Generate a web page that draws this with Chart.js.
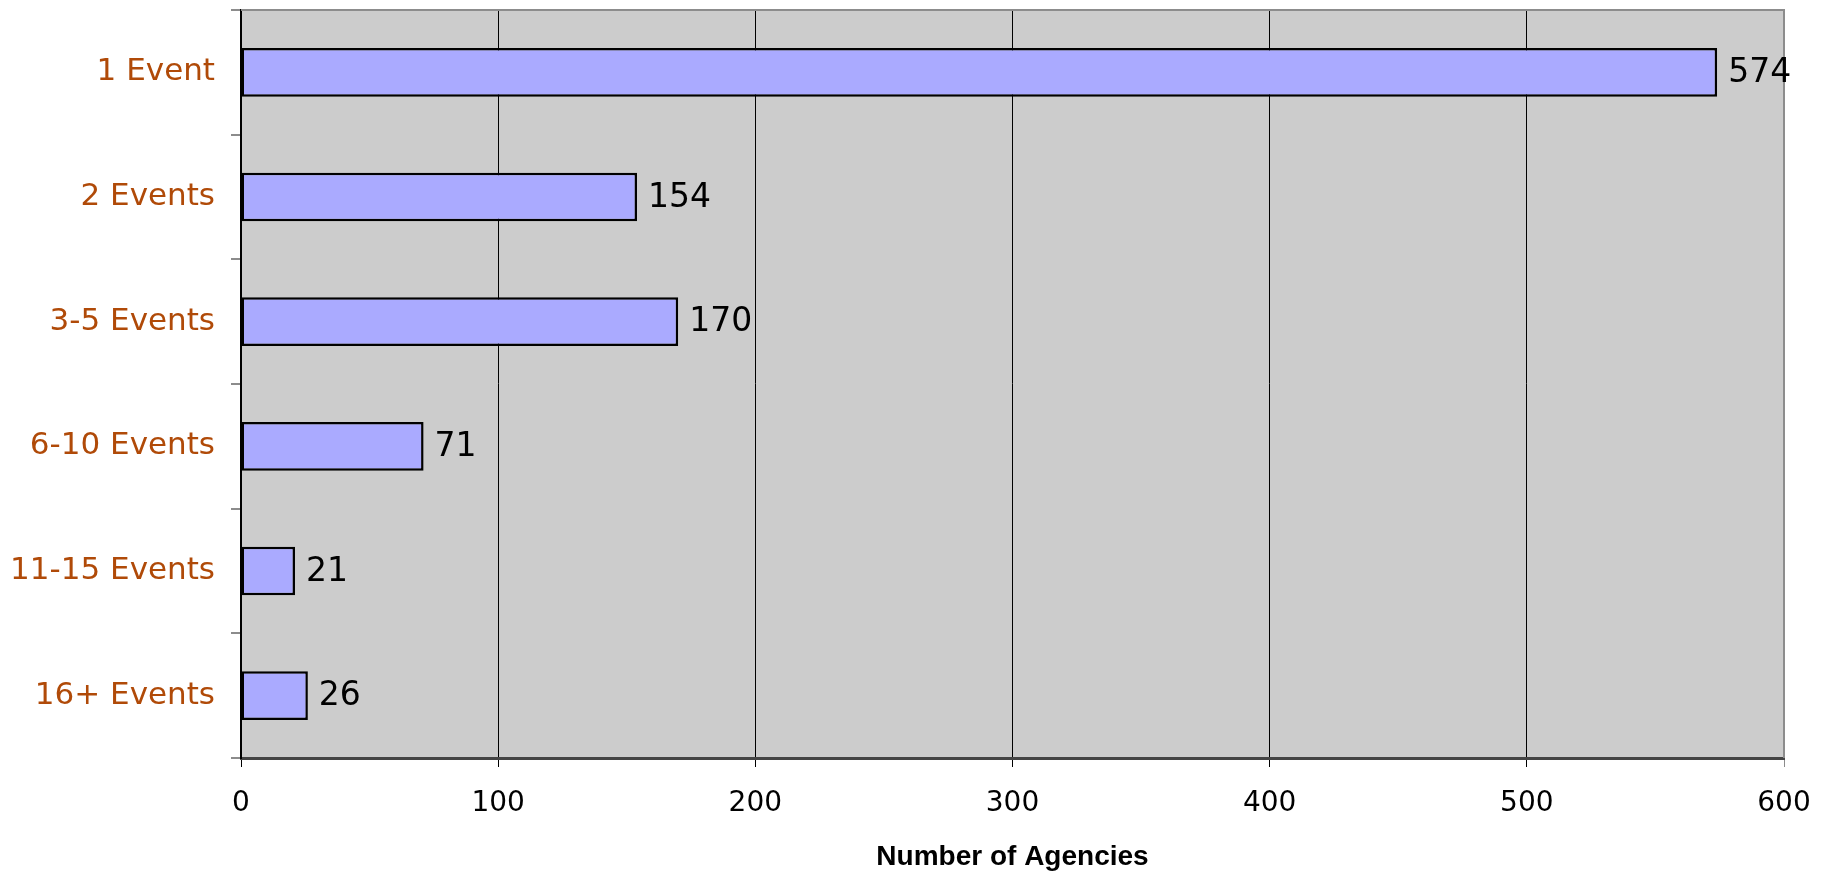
<!DOCTYPE html>
<html>
<head>
<meta charset="utf-8">
<script src="https://cdn.jsdelivr.net/npm/chart.js@4"></script>
<style>
  html, body { margin: 0; padding: 0; background: #ffffff; }
  #wrap { width: 1832px; height: 874px; }
</style>
</head>
<body>
<div id="wrap"><canvas id="chart-events"></canvas></div>
<script>
/* ── Data ── */
const categories = ['1 Event', '2 Events', '3-5 Events', '6-10 Events', '11-15 Events', '16+ Events'];
const agencies   = [574, 154, 170, 71, 21, 26];
const xTicks     = [0, 100, 200, 300, 400, 500, 600];

/* ── Colours ── */
const C = {
  bar:     '#aaaaff',
  barEdge: '#000000',
  plot:    '#cccccc',
  label:   '#b04a08',
  grid:    '#000000',
  frame:   '#8c8c8c',
  axis:    '#444444',
};

Chart.defaults.font.family = "'DejaVu Sans', sans-serif";
Chart.defaults.color = '#000';
Chart.defaults.animation = false;

/* plot background + grey frame on top/right */
const plotBg = {
  id: 'plotBg',
  beforeDraw(chart) {
    const { ctx, chartArea: a } = chart;
    ctx.save();
    ctx.fillStyle = C.plot;
    ctx.fillRect(a.left, a.top, a.right - a.left, a.bottom - a.top);
    ctx.restore();
  },
  afterDatasetsDraw(chart) {
    const { ctx, chartArea: a } = chart;
    ctx.save();
    ctx.strokeStyle = C.frame;
    ctx.lineWidth = 2;
    ctx.beginPath();
    ctx.moveTo(a.left, a.top);
    ctx.lineTo(a.right, a.top);
    ctx.lineTo(a.right, a.bottom);
    ctx.stroke();
    ctx.restore();
  },
};

/* value labels at bar ends */
const valueLabels = {
  id: 'valueLabels',
  afterDatasetsDraw(chart) {
    const { ctx } = chart;
    const meta = chart.getDatasetMeta(0);
    ctx.save();
    ctx.font = "33px 'DejaVu Sans', sans-serif";
    ctx.fillStyle = '#000';
    ctx.textAlign = 'left';
    ctx.textBaseline = 'middle';
    meta.data.forEach((bar, i) => {
      ctx.fillText(String(agencies[i]), bar.x + 11, bar.y + 1);
    });
    ctx.restore();
  },
};

new Chart(document.getElementById('chart-events').getContext('2d'), {
  type: 'bar',
  data: {
    labels: categories,
    datasets: [{
      label: 'Number of Agencies',
      data: agencies,
      backgroundColor: C.bar,
      borderColor: C.barEdge,
      borderWidth: 2.5,
      borderSkipped: false,
      categoryPercentage: 1,
      barPercentage: 0.39,
    }],
  },
  options: {
    indexAxis: 'y',
    responsive: true,
    maintainAspectRatio: false,
    layout: { padding: { top: 10, right: 48, left: 0, bottom: 0 } },
    plugins: {
      legend: { display: false },
      tooltip: { enabled: false },
    },
    scales: {
      x: {
        min: 0,
        max: 600,
        afterBuildTicks(scale) { scale.ticks = xTicks.map(v => ({ value: v })); },
        afterFit(scale) { scale.height = 116; },
        ticks: {
          color: '#000',
          padding: 20,
          font: { size: 28 },
        },
        grid: {
          color: ctx => (ctx.tick && ctx.tick.value === 600 ? C.frame : C.grid),
          lineWidth: 1,
          tickLength: 9,
        },
        border: { color: C.axis, width: 3 },
        title: {
          display: true,
          text: 'Number of Agencies',
          color: '#000',
          font: { family: "'Liberation Sans', Arial, sans-serif", size: 28, weight: 'bold' },
          padding: { top: 16, bottom: 0 },
        },
      },
      y: {
        afterFit(scale) {
          scale.width = 241;
          scale.paddingTop = 0;
          scale.paddingBottom = 0;
        },
        ticks: {
          color: C.label,
          padding: 16,
          font: { size: 31 },
        },
        grid: {
          drawOnChartArea: false,
          color: C.frame,
          lineWidth: 2,
          tickLength: 10,
        },
        border: { color: '#000', width: 2 },
      },
    },
  },
  plugins: [plotBg, valueLabels],
});
</script>
</body>
</html>
